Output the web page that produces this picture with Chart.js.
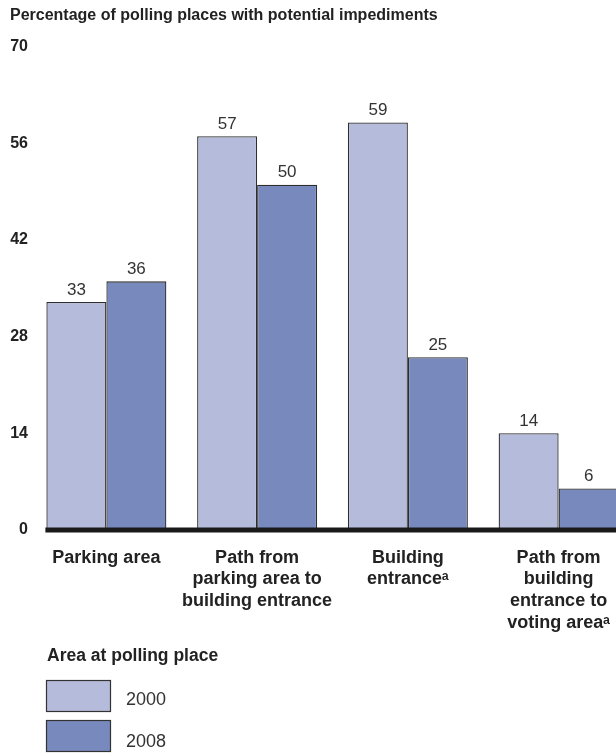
<!DOCTYPE html>
<html>
<head>
<meta charset="utf-8">
<script src="https://cdn.jsdelivr.net/npm/chart.js@4/dist/chart.umd.min.js"></script>
<style>
  html, body { margin: 0; padding: 0; background: #fff; overflow: hidden; }
  #wrap { width: 616px; height: 756px; overflow: hidden; }
</style>
</head>
<body>
<div id="wrap"><canvas id="chart" width="634" height="756"></canvas></div>
<script>
const chartTitle = 'Percentage of polling places with potential impediments';
const legendTitle = 'Area at polling place';
const categories = [
  ['Parking area'],
  ['Path from', 'parking area to', 'building entrance'],
  ['Building', 'entrance\u1D43'],
  ['Path from', 'building', 'entrance to', 'voting area\u1D43']
];
const years = ['2000', '2008'];
const values2000 = [33, 57, 59, 14];
const values2008 = [36, 50, 25, 6];
const yTicks = [0, 14, 28, 42, 56, 70];

const FONT = "'Liberation Sans', Arial, sans-serif";
const colors = ['#b5bbdb', '#7789bd'];

// value labels above each bar
const valueLabels = {
  id: 'valueLabels',
  afterDatasetsDraw(chart) {
    const ctx = chart.ctx;
    ctx.save();
    ctx.font = '17px ' + FONT;
    ctx.fillStyle = '#333';
    ctx.textAlign = 'center';
    ctx.textBaseline = 'alphabetic';
    chart.data.datasets.forEach((ds, i) => {
      chart.getDatasetMeta(i).data.forEach((bar, j) => {
        ctx.fillText(ds.data[j], bar.x, bar.y - 7.5);
      });
    });
    ctx.restore();
  }
};

// thick baseline starting at the first bar
const baseline = {
  id: 'baseline',
  afterDatasetsDraw(chart) {
    const ctx = chart.ctx;
    const first = chart.getDatasetMeta(0).data[0];
    const y = chart.scales.y.getPixelForValue(0);
    ctx.save();
    ctx.strokeStyle = '#1a1a1a';
    ctx.lineWidth = 5;
    ctx.beginPath();
    ctx.moveTo(first.x - first.width / 2 - 1, y);
    ctx.lineTo(chart.chartArea.right, y);
    ctx.stroke();
    ctx.restore();
  }
};

// legend block under the axis labels
const boxLegend = {
  id: 'boxLegend',
  afterDraw(chart) {
    const ctx = chart.ctx;
    ctx.save();
    ctx.fillStyle = '#222';
    ctx.textBaseline = 'middle';
    ctx.textAlign = 'left';
    ctx.font = 'bold 17.5px ' + FONT;
    ctx.fillText(legendTitle, 47, 656);
    ctx.font = '18px ' + FONT;
    chart.data.datasets.forEach((ds, i) => {
      const top = 680 + i * 40;
      ctx.fillStyle = ds.backgroundColor;
      ctx.fillRect(46, top, 65, 32);
      ctx.strokeStyle = '#333';
      ctx.lineWidth = 1.2;
      ctx.strokeRect(46.5, top + 0.5, 64, 31);
      ctx.fillStyle = '#333';
      ctx.fillText(ds.label, 126, top + 20 + i * 2);
    });
    ctx.restore();
  }
};

new Chart(document.getElementById('chart'), {
  type: 'bar',
  data: {
    labels: categories,
    datasets: [
      { label: years[0], data: values2000, backgroundColor: colors[0] },
      { label: years[1], data: values2008, backgroundColor: colors[1] }
    ]
  },
  options: {
    responsive: false,
    animation: false,
    layout: { padding: { left: 10, right: 0, top: 0, bottom: 0 } },
    datasets: {
      bar: {
        borderColor: '#2e2e2e',
        borderWidth: 1.3,
        categoryPercentage: 0.796,
        barPercentage: 1
      }
    },
    scales: {
      x: {
        grid: { display: false, drawTicks: false },
        border: { display: false },
        ticks: {
          color: '#222',
          padding: 17,
          maxRotation: 0,
          autoSkip: false,
          font: { family: FONT, size: 18, weight: 'bold', lineHeight: 1.2 }
        },
        afterFit(scale) { scale.height = 226; }
      },
      y: {
        min: 0,
        max: 70,
        afterBuildTicks(scale) { scale.ticks = yTicks.map(v => ({ value: v })); },
        grid: { display: false, drawTicks: false },
        border: { display: false },
        ticks: {
          color: '#222',
          padding: 3,
          font: { family: FONT, size: 16, weight: 'bold' }
        },
        afterFit(scale) { scale.width = 21; }
      }
    },
    plugins: {
      legend: { display: false },
      tooltip: { enabled: false },
      title: {
        display: true,
        text: chartTitle,
        align: 'start',
        color: '#222',
        padding: { top: 6.4, bottom: 20.9 },
        font: { family: FONT, size: 16, weight: 'bold', lineHeight: 1.2 }
      }
    }
  },
  plugins: [valueLabels, baseline, boxLegend]
});
</script>
</body>
</html>
